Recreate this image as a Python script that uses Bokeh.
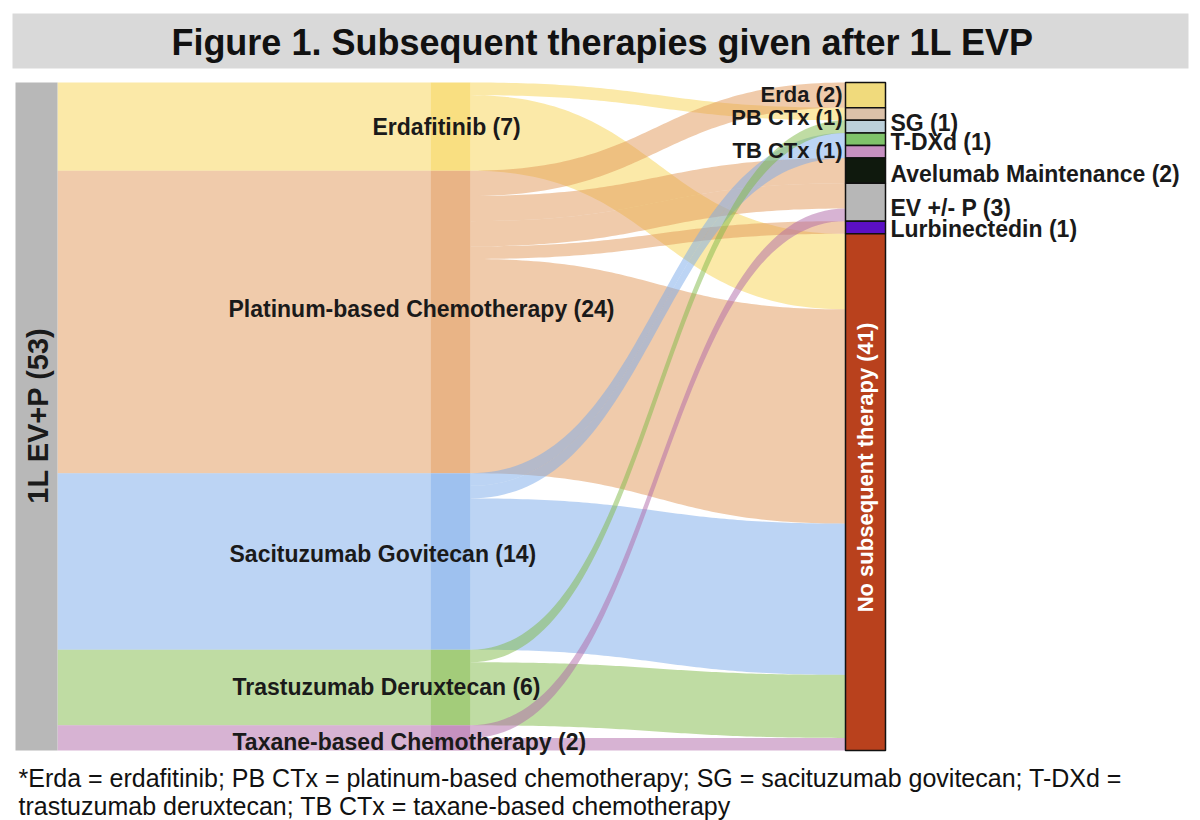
import numpy as np
from bokeh.plotting import figure
from bokeh.models import Range1d, Label
from bokeh.embed import file_html
from bokeh.resources import INLINE

# ---- data -------------------------------------------------------------
first_line = "1L EV+P"
first_count = 53

second_line = ["Erdafitinib", "Platinum-based Chemotherapy", "Sacituzumab Govitecan",
               "Trastuzumab Deruxtecan", "Taxane-based Chemotherapy"]
second_counts = [7, 24, 14, 6, 2]

third_line = ["Erda", "PB CTx", "SG", "T-DXd", "TB CTx", "Avelumab Maintenance",
              "EV +/- P", "Lurbinectedin", "No subsequent therapy"]
third_counts = [2, 1, 1, 1, 1, 2, 3, 1, 41]

# second-line -> third-line transitions
flow_from = ["Erdafitinib", "Erdafitinib",
             "Platinum-based Chemotherapy", "Platinum-based Chemotherapy",
             "Platinum-based Chemotherapy", "Platinum-based Chemotherapy",
             "Platinum-based Chemotherapy",
             "Sacituzumab Govitecan", "Sacituzumab Govitecan", "Sacituzumab Govitecan",
             "Trastuzumab Deruxtecan", "Trastuzumab Deruxtecan",
             "Taxane-based Chemotherapy", "Taxane-based Chemotherapy"]
flow_to = ["PB CTx", "No subsequent therapy",
           "Erda", "Avelumab Maintenance", "EV +/- P", "Lurbinectedin", "No subsequent therapy",
           "T-DXd", "TB CTx", "No subsequent therapy",
           "SG", "No subsequent therapy",
           "EV +/- P", "No subsequent therapy"]
flow_n = [1, 6, 2, 2, 2, 1, 17, 1, 1, 12, 1, 5, 1, 1]

footnote = ["*Erda = erdafitinib; PB CTx = platinum-based chemotherapy; SG = sacituzumab govitecan; T-DXd =",
            "trastuzumab deruxtecan; TB CTx = taxane-based chemotherapy"]

# ---- styling ----------------------------------------------------------
flow_colors = {"Erdafitinib": "#f7d351", "Platinum-based Chemotherapy": "#e19757",
               "Sacituzumab Govitecan": "#79a9e9", "Trastuzumab Deruxtecan": "#7fb947",
               "Taxane-based Chemotherapy": "#af67a7"}
third_colors = ["#f0da7c", "#dcc1a9", "#bcd0da", "#7fc36a", "#c690c1",
                "#0f190d", "#b7b7b7", "#5b10c4", "#b9411d"]
FONT = "Liberation Sans"
INK = "#1a1a1a"

W, H = 1200, 820
TOP_PX, PX_PER_UNIT = 82.0, 668.0 / 53.0


def py(px):
    """Convert a distance from the top of the canvas (pixels) into patient units."""
    return (px - TOP_PX) / PX_PER_UNIT


p = figure(width=W, height=H, x_range=Range1d(0, W),
           y_range=Range1d(py(H), py(0)),
           toolbar_location=None, output_backend="svg", min_border=0)
p.axis.visible = False
p.grid.visible = False
p.outline_line_color = None
p.background_fill_color = "white"
p.border_fill_color = "white"

# column geometry (x in pixels)
L0, L1 = 15, 57
M0, M1 = 430, 470
R0, R1 = 845, 885

# title band
p.quad(left=[12], right=[1188], top=[py(13)], bottom=[py(68)],
       fill_color="#d9d9d9", line_color=None)
p.add_layout(Label(x=602, y=py(42), text="Figure 1. Subsequent therapies given after 1L EVP",
                   text_font=FONT, text_font_style="bold", text_font_size="36px",
                   text_align="center", text_baseline="middle", text_color="#111111"))

# node stacking
second_top = np.concatenate([[0], np.cumsum(second_counts)[:-1]]).astype(float)
second_bot = second_top + np.array(second_counts)
third_top = np.concatenate([[0], np.cumsum(third_counts)[:-1]]).astype(float)
third_bot = third_top + np.array(third_counts)

# first -> second bands (straight, one per second-line group)
p.quad(left=L1, right=M0, top=list(second_top), bottom=list(second_bot),
       fill_color=[flow_colors[s] for s in second_line], fill_alpha=0.5, line_color=None)


def band(x0, x1, a0, b0, a1, b1, n=80):
    """Ribbon between two vertical intervals, edges are cubic curves with flat ends."""
    t = np.linspace(0, 1, n)
    xm = (x0 + x1) / 2.0
    bx = (1 - t) ** 3 * x0 + 3 * (1 - t) ** 2 * t * xm + 3 * (1 - t) * t ** 2 * xm + t ** 3 * x1
    s = 3 * (1 - t) * t ** 2 + t ** 3
    top = a0 + (a1 - a0) * s
    bot = b0 + (b1 - b0) * s
    return list(bx) + list(bx[::-1]), list(top) + list(bot[::-1])


# second -> third flows: order within source by target, within target by source
src_off = {s: second_top[i] for i, s in enumerate(second_line)}
dst_off = {d: third_top[i] for i, d in enumerate(third_line)}
order_src = sorted(range(len(flow_n)),
                   key=lambda k: (second_line.index(flow_from[k]), third_line.index(flow_to[k])))
a_start, a_end = {}, {}
for k in order_src:
    a_start[k] = src_off[flow_from[k]]
    src_off[flow_from[k]] += flow_n[k]
order_dst = sorted(range(len(flow_n)),
                   key=lambda k: (third_line.index(flow_to[k]), second_line.index(flow_from[k])))
for k in order_dst:
    a_end[k] = dst_off[flow_to[k]]
    dst_off[flow_to[k]] += flow_n[k]

xs, ys, cols = [], [], []
for k in range(len(flow_n)):
    bx, by = band(M1, R0, a_start[k], a_start[k] + flow_n[k], a_end[k], a_end[k] + flow_n[k])
    xs.append(bx)
    ys.append(by)
    cols.append(flow_colors[flow_from[k]])
p.patches(xs, ys, fill_color=cols, fill_alpha=0.5, line_color=None)

# first-line node
p.quad(left=[L0], right=[L1], top=[0], bottom=[first_count], fill_color="#b8b8b8", line_color=None)
p.add_layout(Label(x=(L0 + L1) / 2 + 1, y=py(415), text=f"{first_line} ({first_count})",
                   angle=np.pi / 2, text_font=FONT, text_font_style="bold", text_font_size="29px",
                   text_align="center", text_baseline="middle", text_color=INK))

# second-line nodes
p.quad(left=M0, right=M1, top=list(second_top), bottom=list(second_bot),
       fill_color=[flow_colors[s] for s in second_line], fill_alpha=0.72, line_color=None)
mid_label_x = [372, 228, 229, 232, 232]
mid_label_px = [126, 308, 553, 686, 741]
for name, n, lx, lp in zip(second_line, second_counts, mid_label_x, mid_label_px):
    p.add_layout(Label(x=lx, y=py(lp), text=f"{name} ({n})", text_font=FONT,
                       text_font_style="bold", text_font_size="23px",
                       text_align="left", text_baseline="middle", text_color=INK))

# third-line nodes
p.quad(left=R0, right=R1, top=list(third_top), bottom=list(third_bot),
       fill_color=third_colors, line_color="#111111", line_width=1.5)
short_left = {"Erda": 94, "PB CTx": 117, "TB CTx": 150}
short_right = {"SG": 122, "T-DXd": 141, "Avelumab Maintenance": 173,
               "EV +/- P": 207, "Lurbinectedin": 228}
for name, n in zip(third_line, third_counts):
    txt = f"{name} ({n})"
    if name in short_left:
        p.add_layout(Label(x=R0 - 3, y=py(short_left[name]), text=txt, text_font=FONT,
                           text_font_style="bold", text_font_size="22px",
                           text_align="right", text_baseline="middle", text_color=INK))
    elif name in short_right:
        p.add_layout(Label(x=R1 + 5, y=py(short_right[name]), text=txt, text_font=FONT,
                           text_font_style="bold", text_font_size="23px",
                           text_align="left", text_baseline="middle", text_color=INK))
    else:
        p.add_layout(Label(x=(R0 + R1) / 2, y=py(467), text=txt, angle=np.pi / 2,
                           text_font=FONT, text_font_style="bold", text_font_size="22px",
                           text_align="center", text_baseline="middle", text_color="white"))

# footnote
for i, line in enumerate(footnote):
    p.add_layout(Label(x=18, y=py(777 + 28 * i), text=line, text_font=FONT,
                       text_font_size="25px", text_align="left", text_baseline="middle",
                       text_color="#111111"))

open("out.html", "w").write(file_html(p, INLINE))
